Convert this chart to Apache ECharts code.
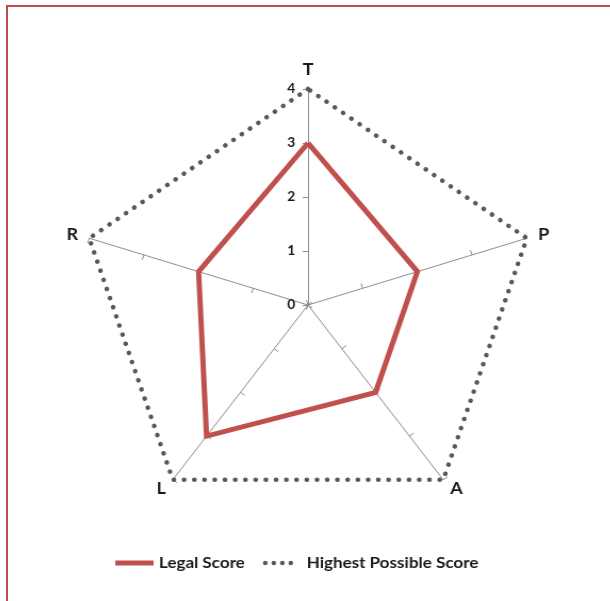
<!DOCTYPE html>
<html>
<head>
<meta charset="utf-8">
<script src="https://cdn.jsdelivr.net/npm/echarts@6/dist/echarts.min.js"></script>
<style>
  html, body { margin: 0; padding: 0; background: #fff; }
  #frame {
    position: absolute; left: 6px; top: 5px; width: 620px; height: 610px;
    border-top: 2px solid #be4b48; border-left: 2px solid #be4b48;
  }
  #main {
    position: absolute; left: 0; top: 0; width: 610px; height: 601px;
    transform: scaleX(1.065); transform-origin: 308px 0;
  }
</style>
</head>
<body>
<div id="frame"></div>
<div id="main"></div>
<script>
// indicators go counter-clockwise from the top
const indicators = ["T", "R", "L", "A", "P"];
const legalScore = [3, 2, 3, 2, 2];
const highestScore = [4, 4, 4, 4, 4];
const maxScore = 4;
const seriesNames = ["Legal Score", "Highest Possible Score"];

// dotted legend icon: four dots, padded to the same width as the line icon
const dotIcon =
  "path://M0,0 M36,5 " +
  [2.2, 10.2, 18.2, 26.2].map(function (cx) {
    return "M" + (cx - 2.2) + ",2.5 a2.2,2.2 0 1,0 4.4,0 a2.2,2.2 0 1,0 -4.4,0 Z";
  }).join(" ");

const chart = echarts.init(document.getElementById("main"));

chart.setOption({
  animation: false,
  textStyle: { fontFamily: "Lato" },
  legend: {
    top: 550,
    left: 122,
    itemWidth: 36,
    itemHeight: 5,
    itemGap: 17,
    textStyle: { fontSize: 16, fontWeight: "bold", color: "#1a1a1a" },
    data: [
      { name: seriesNames[0], icon: "rect", itemStyle: { color: "#c0504d", borderWidth: 0 } },
      { name: seriesNames[1], icon: dotIcon, itemStyle: { color: "#595959", borderWidth: 0 } }
    ]
  },
  radar: {
    center: [308, 305],
    radius: 216,
    startAngle: 90,
    splitNumber: 4,
    shape: "polygon",
    nameGap: 11,
    axisName: { color: "#1a1a1a", fontSize: 17, fontWeight: "bold" },
    axisLine: { lineStyle: { color: "#8c8c8c", width: 1 } },
    axisTick: { show: true, length: 5, lineStyle: { color: "#8c8c8c" } },
    axisLabel: { show: false, fontSize: 13, fontWeight: "bold", color: "#1a1a1a", margin: 12 },
    splitLine: { show: false },
    splitArea: { show: false },
    indicator: indicators.map(function (name, i) {
      const ind = { name: name, min: 0, max: maxScore };
      if (i === 0) ind.axisLabel = { show: true };
      return ind;
    })
  },
  series: [
    {
      type: "radar",
      symbol: "none",
      data: [
        {
          name: seriesNames[1],
          value: highestScore,
          lineStyle: { color: "#595959", width: 4.5, type: [0.1, 9.5], cap: "round" },
          itemStyle: { color: "#595959" }
        },
        {
          name: seriesNames[0],
          value: legalScore,
          lineStyle: { color: "#c0504d", width: 5, join: "miter" },
          itemStyle: { color: "#c0504d" }
        }
      ]
    }
  ]
});
</script>
</body>
</html>
